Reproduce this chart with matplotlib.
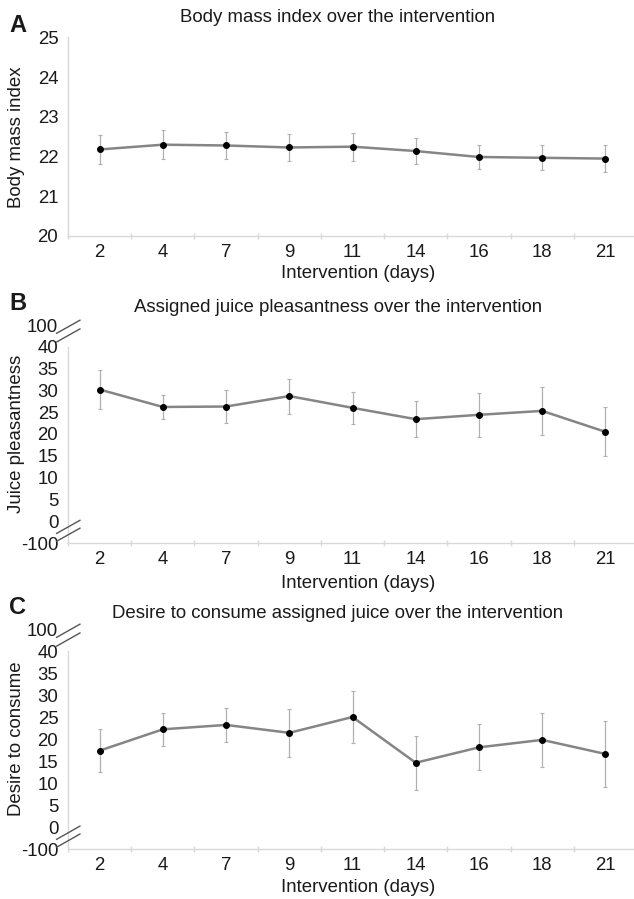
import numpy as np
import matplotlib
matplotlib.use('Agg')
import matplotlib.pyplot as plt

# ── Datos ────────────────────────────────────────────────────────────────────
days = ['2', '4', '7', '9', '11', '14', '16', '18', '21']

bmi_mean = [22.18, 22.30, 22.28, 22.23, 22.25, 22.14, 21.99, 21.97, 21.95]
bmi_err = [0.37, 0.37, 0.35, 0.35, 0.35, 0.33, 0.30, 0.32, 0.34]

pleas_mean = [30.2, 26.2, 26.3, 28.7, 26.0, 23.4, 24.4, 25.3, 20.5]
pleas_err = [4.4, 2.75, 3.8, 4.0, 3.7, 4.1, 5.0, 5.45, 5.65]

desire_mean = [17.35, 22.2, 23.2, 21.4, 25.0, 14.6, 18.1, 19.8, 16.6]
desire_err = [4.85, 3.8, 3.9, 5.4, 5.85, 6.1, 5.2, 6.1, 7.45]

bmi_ticks = [20, 21, 22, 23, 24, 25]
break_ticks = [-100, 0, 5, 10, 15, 20, 25, 30, 35, 40, 100]

# ── Estilo ───────────────────────────────────────────────────────────────────
plt.rcParams.update({
    'font.family': ['Liberation Sans', 'DejaVu Sans'],
    'font.size': 13.4,
    'text.color': '#1a1a1a',
    'xtick.color': '#1a1a1a',
    'ytick.color': '#1a1a1a',
})

W, H = 634, 899
FS = 13.4
LINE = '#858585'
ERR = '#b0b0b0'
SPINE = '#d9d9d9'
BREAK = '#555555'


def squash(v):
    # eje roto: 100 -> 45, -100 -> -5
    if v > 40:
        return 45
    if v < 0:
        return -5
    return v


def make_ax(top_px, bottom_px):
    left, right = 68, 637
    return fig.add_axes([left / W, 1 - bottom_px / H,
                         (right - left) / W, (bottom_px - top_px) / H])


def style(ax, title, ylabel, letter, title_y, letter_y, xlabel_y):
    x = np.arange(len(days))
    ax.set_xlim(-0.5, len(days) - 0.5)
    ax.set_xticks(x)
    ax.set_xticklabels(days)
    ax.set_xticks(np.arange(-0.5, len(days)), minor=True)
    ax.tick_params(axis='x', which='major', length=0, pad=6, labelsize=FS)
    ax.tick_params(axis='x', which='minor', length=5, direction='inout',
                   color=SPINE, width=1)
    ax.tick_params(axis='y', length=0, pad=7, labelsize=FS)
    for s in ['top', 'right']:
        ax.spines[s].set_visible(False)
    for s in ['left', 'bottom']:
        ax.spines[s].set_color(SPINE)
        ax.spines[s].set_linewidth(1)
    fig.text(338 / W, 1 - title_y / H, title, ha='center', va='center',
             fontsize=FS)
    fig.text(18 / W, 1 - letter_y / H, letter, ha='center', va='center',
             fontsize=17, fontweight='bold')
    fig.text(358 / W, 1 - xlabel_y / H, 'Intervention (days)', ha='center',
             va='center', fontsize=FS)
    fig.text(17 / W, ax.get_position().y0 + ax.get_position().height / 2,
             ylabel, rotation=90, ha='center', va='center', fontsize=FS)


def plot_series(ax, mean, err):
    x = np.arange(len(days))
    ax.errorbar(x, mean, yerr=err, fmt='none', ecolor=ERR, elinewidth=0.9,
                capsize=1.2, capthick=0.8, zorder=2)
    ax.plot(x, mean, color=LINE, lw=1.8, zorder=3)
    ax.plot(x, mean, 'o', color='black', ms=4, zorder=4)


def break_marks(ax):
    tr = matplotlib.transforms.blended_transform_factory(ax.transAxes,
                                                         ax.transData)
    for y0 in [-4.6, -2.8, 41.1, 43.1]:
        ax.plot([-0.020, 0.021], [y0, y0 + 3.0], color=BREAK, lw=1,
                transform=tr, clip_on=False, zorder=5)


fig = plt.figure(figsize=(W / 100, H / 100), dpi=100)

# ── A: IMC ───────────────────────────────────────────────────────────────────
ax_a = make_ax(37.5, 236)
plot_series(ax_a, bmi_mean, bmi_err)
ax_a.set_ylim(20, 25)
ax_a.set_yticks(bmi_ticks)
style(ax_a, 'Body mass index over the intervention', 'Body mass index',
      'A', 18, 25, 273)

# ── B: agrado del jugo ───────────────────────────────────────────────────────
ax_b = make_ax(325, 543)
plot_series(ax_b, pleas_mean, pleas_err)
ax_b.set_ylim(-5, 45)
ax_b.set_yticks([squash(v) for v in break_ticks])
ax_b.set_yticklabels([str(v) for v in break_ticks])
ax_b.spines['left'].set_bounds(-5, 40)
break_marks(ax_b)
style(ax_b, 'Assigned juice pleasantness over the intervention',
      'Juice pleasantness', 'B', 308, 304, 583)

# ── C: deseo de consumir ─────────────────────────────────────────────────────
ax_c = make_ax(629, 849)
plot_series(ax_c, desire_mean, desire_err)
ax_c.set_ylim(-5, 45)
ax_c.set_yticks([squash(v) for v in break_ticks])
ax_c.set_yticklabels([str(v) for v in break_ticks])
ax_c.spines['left'].set_bounds(-5, 40)
break_marks(ax_c)
style(ax_c, 'Desire to consume assigned juice over the intervention',
      'Desire to consume', 'C', 614, 608, 887)

fig.savefig('out.png', dpi=100)
